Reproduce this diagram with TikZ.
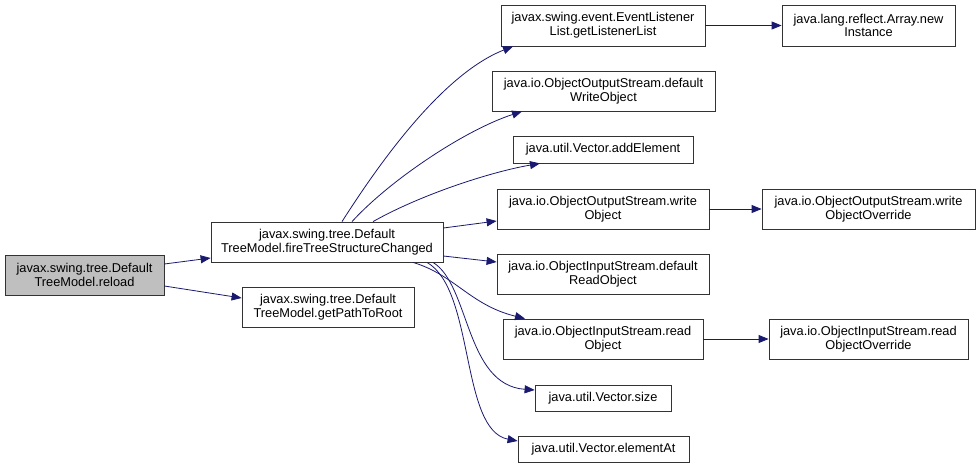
\documentclass[tikz,border=0pt]{standalone}
\usepackage{fontspec}
\setmainfont{Liberation Sans}
\usetikzlibrary{arrows.meta}
\definecolor{edgec}{HTML}{191970}
\tikzset{
  fn/.style={draw=black!80, line width=0.8pt, fill=white, rectangle, align=center, inner sep=0pt,
    font=\fontsize{12.8}{13.8}\selectfont},
  cur/.style={fn, fill=black!25},
  edge/.style={draw=edgec, line width=0.8pt, -{Triangle[length=10pt,width=8pt]}},
}
\newcommand{\bx}[6]{\node[#6, minimum width=#4-#2, minimum height=#5-#3] (#1) at ({(#2+#4)/2},{(#3+#5)/2})}
\begin{document}
\begin{tikzpicture}[x=1pt,y=-1pt]
\useasboundingbox (0,0) rectangle (980,467);
\bx{reload}{5}{255}{164}{295}{cur} {javax.swing.tree.Default\\TreeModel.reload};
\bx{fire}{211}{222}{443}{262}{fn} {javax.swing.tree.Default\\TreeModel.fireTreeStructureChanged};
\bx{path}{242}{287}{414}{327}{fn} {javax.swing.tree.Default\\TreeModel.getPathToRoot};
\bx{gll}{501}{5}{705}{46}{fn} {javax.swing.event.EventListener\\List.getListenerList};
\bx{ni}{782}{5}{955}{46}{fn} {java.lang.reflect.Array.new\\Instance};
\bx{dwo}{492}{71}{715}{111}{fn} {java.io.ObjectOutputStream.default\\WriteObject};
\bx{ae}{513}{136}{693}{163}{fn} {java.util.Vector.addElement};
\bx{wo}{497}{189}{709}{229}{fn} {java.io.ObjectOutputStream.write\\Object};
\bx{woo}{762}{189}{975}{229}{fn} {java.io.ObjectOutputStream.write\\ObjectOverride};
\bx{dro}{497}{254}{709}{294}{fn} {java.io.ObjectInputStream.default\\ReadObject};
\bx{ro}{503}{319}{703}{359}{fn} {java.io.ObjectInputStream.read\\Object};
\bx{roo}{769}{319}{968}{359}{fn} {java.io.ObjectInputStream.read\\ObjectOverride};
\bx{sz}{535}{385}{671}{411}{fn} {java.util.Vector.size};
\bx{ea}{518}{436}{689}{462}{fn} {java.util.Vector.elementAt};

\draw[edge] (reload.east |- 0,264) -- (fire.west |- 0,258);
\draw[edge] (reload.east |- 0,286) -- (path.west |- 0,298);
\draw[edge] (fire.north -| 342,0) .. controls (375,170) and (440,75) .. (gll.south -| 513,0);
\draw[edge] (fire.north -| 352,0) .. controls (390,180) and (465,130) .. (dwo.south -| 522,0);
\draw[edge] (fire.north -| 373,0) .. controls (420,195) and (490,172) .. (ae.south -| 540,0);
\draw[edge] (fire.east |- 0,228) -- (wo.west |- 0,221);
\draw[edge] (fire.east |- 0,256) -- (dro.west |- 0,262);
\draw[edge] (fire.south -| 413,0) .. controls (455,275) and (470,305) .. (ro.north -| 525,0);
\draw[edge] (fire.south -| 433,0) .. controls (470,285) and (465,385) .. (sz.west |- 0,390);
\draw[edge] (fire.south -| 427,0) .. controls (475,290) and (460,430) .. (ea.west |- 0,441);
\draw[edge] (gll) -- (ni);
\draw[edge] (wo) -- (woo);
\draw[edge] (ro) -- (roo);
\end{tikzpicture}
\end{document}
